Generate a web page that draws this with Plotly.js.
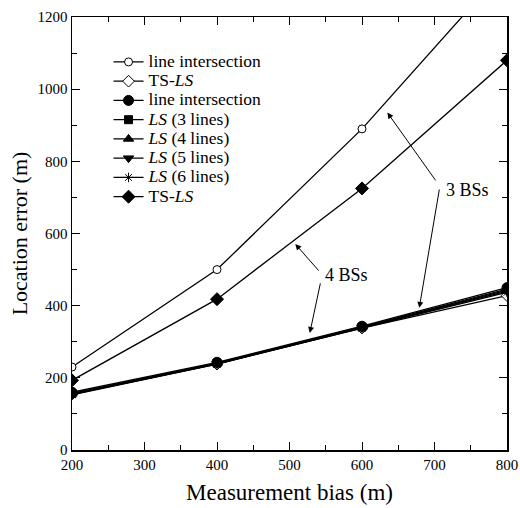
<!DOCTYPE html>
<html><head><meta charset="utf-8">
<script src="https://cdn.plot.ly/plotly-3.0.1.min.js"></script>
<style>body{margin:0;background:#fff}#chart{width:520px;height:508px}</style>
</head><body><div id="chart"></div>
<script>
var bias = [200, 400, 600, 800];
var names = ['line intersection', 'TS-<i>LS</i>', 'line intersection', '<i>LS</i> (3 lines)', '<i>LS</i> (4 lines)', '<i>LS</i> (5 lines)', '<i>LS</i> (6 lines)', 'TS-<i>LS</i>'];
var bs3LineInt = [230, 500, 890, 1340];
var bs3TSLS = [155, 238, 338, 428];
var bs4LineInt = [160, 243, 343, 450];
var ls3 = [157, 241, 341, 446];
var ls4 = [156, 240, 340, 443];
var ls5 = [154, 239, 339, 440];
var ls6 = [153, 238, 338, 437];
var bs4TSLS = [193, 418, 725, 1080];
var series = [bs3LineInt, bs3TSLS, bs4LineInt, ls3, ls4, ls5, ls6, bs4TSLS];
var symbols = ['circle', 'diamond', 'circle', 'square', 'triangle-up', 'triangle-down', 'asterisk', 'diamond'];
var fills = ['white', 'white', 'black', 'black', 'black', 'black', 'black', 'black'];
var sizes = [8, 9, 10, 8, 9, 9, 8, 10];

var traces = series.map(function (ys, i) {
  return {
    x: bias, y: ys, type: 'scatter', mode: 'lines+markers',
    name: '<span style="font-size:17.5px">' + names[i] + '</span>',
    line: {color: 'black', width: 1.3},
    marker: {symbol: symbols[i], size: sizes[i], color: fills[i], line: {color: 'black', width: 1}}
  };
});

var font = {family: 'Liberation Serif, Times New Roman, serif', color: 'black'};
function arrow(x, y, ax, ay) {
  return {x: x, y: y, ax: ax, ay: ay, xref: 'x', yref: 'y', axref: 'x', ayref: 'y',
    text: '', showarrow: true, arrowhead: 2, arrowsize: 1.2, arrowwidth: 1, arrowcolor: 'black'};
}
var layout = {
  width: 520, height: 508,
  margin: {l: 72, r: 13, t: 17, b: 58},
  paper_bgcolor: 'white', plot_bgcolor: 'white',
  font: {family: font.family, size: 15, color: 'black'},
  showlegend: true,
  legend: {x: 0.084, y: 0.93, xanchor: 'left', yanchor: 'top', bgcolor: 'rgba(0,0,0,0)',
    font: {family: font.family, size: 12.5, color: 'black'}, tracegroupgap: 0, itemwidth: 30},
  xaxis: {range: [200, 800], tickvals: [200, 300, 400, 500, 600, 700, 800],
    ticks: 'inside', ticklen: 8, tickwidth: 1, tickcolor: 'black', mirror: 'ticks',
    showline: true, linecolor: 'black', linewidth: 1.5, showgrid: false, zeroline: false,
    minor: {tickvals: [250, 350, 450, 550, 650, 750], ticks: 'inside', ticklen: 5, tickcolor: 'black'},
    tickfont: {family: font.family, size: 15, color: 'black'},
    title: {text: 'Measurement bias (m)', font: {family: font.family, size: 23, color: 'black'}, standoff: 12}},
  yaxis: {range: [0, 1200], tickvals: [0, 200, 400, 600, 800, 1000, 1200],
    ticks: 'inside', ticklen: 8, tickwidth: 1, tickcolor: 'black', mirror: 'ticks',
    showline: true, linecolor: 'black', linewidth: 1.5, showgrid: false, zeroline: false,
    minor: {tickvals: [100, 300, 500, 700, 900, 1100], ticks: 'inside', ticklen: 5, tickcolor: 'black'},
    tickfont: {family: font.family, size: 15, color: 'black'},
    title: {text: 'Location error (m)', font: {family: font.family, size: 22, color: 'black'}, standoff: 4}},
  annotations: [
    arrow(635, 935, 703, 743),
    arrow(679, 394, 707, 726),
    arrow(508, 571, 542, 493),
    arrow(528, 324, 543, 466),
    {x: 745, y: 720, xref: 'x', yref: 'y', text: '3 BSs', showarrow: false,
      font: {family: font.family, size: 18, color: 'black'}},
    {x: 579, y: 485, xref: 'x', yref: 'y', text: '4 BSs', showarrow: false,
      font: {family: font.family, size: 18, color: 'black'}}
  ]
};
Plotly.newPlot('chart', traces, layout, {displayModeBar: false, staticPlot: true});
</script></body></html>
